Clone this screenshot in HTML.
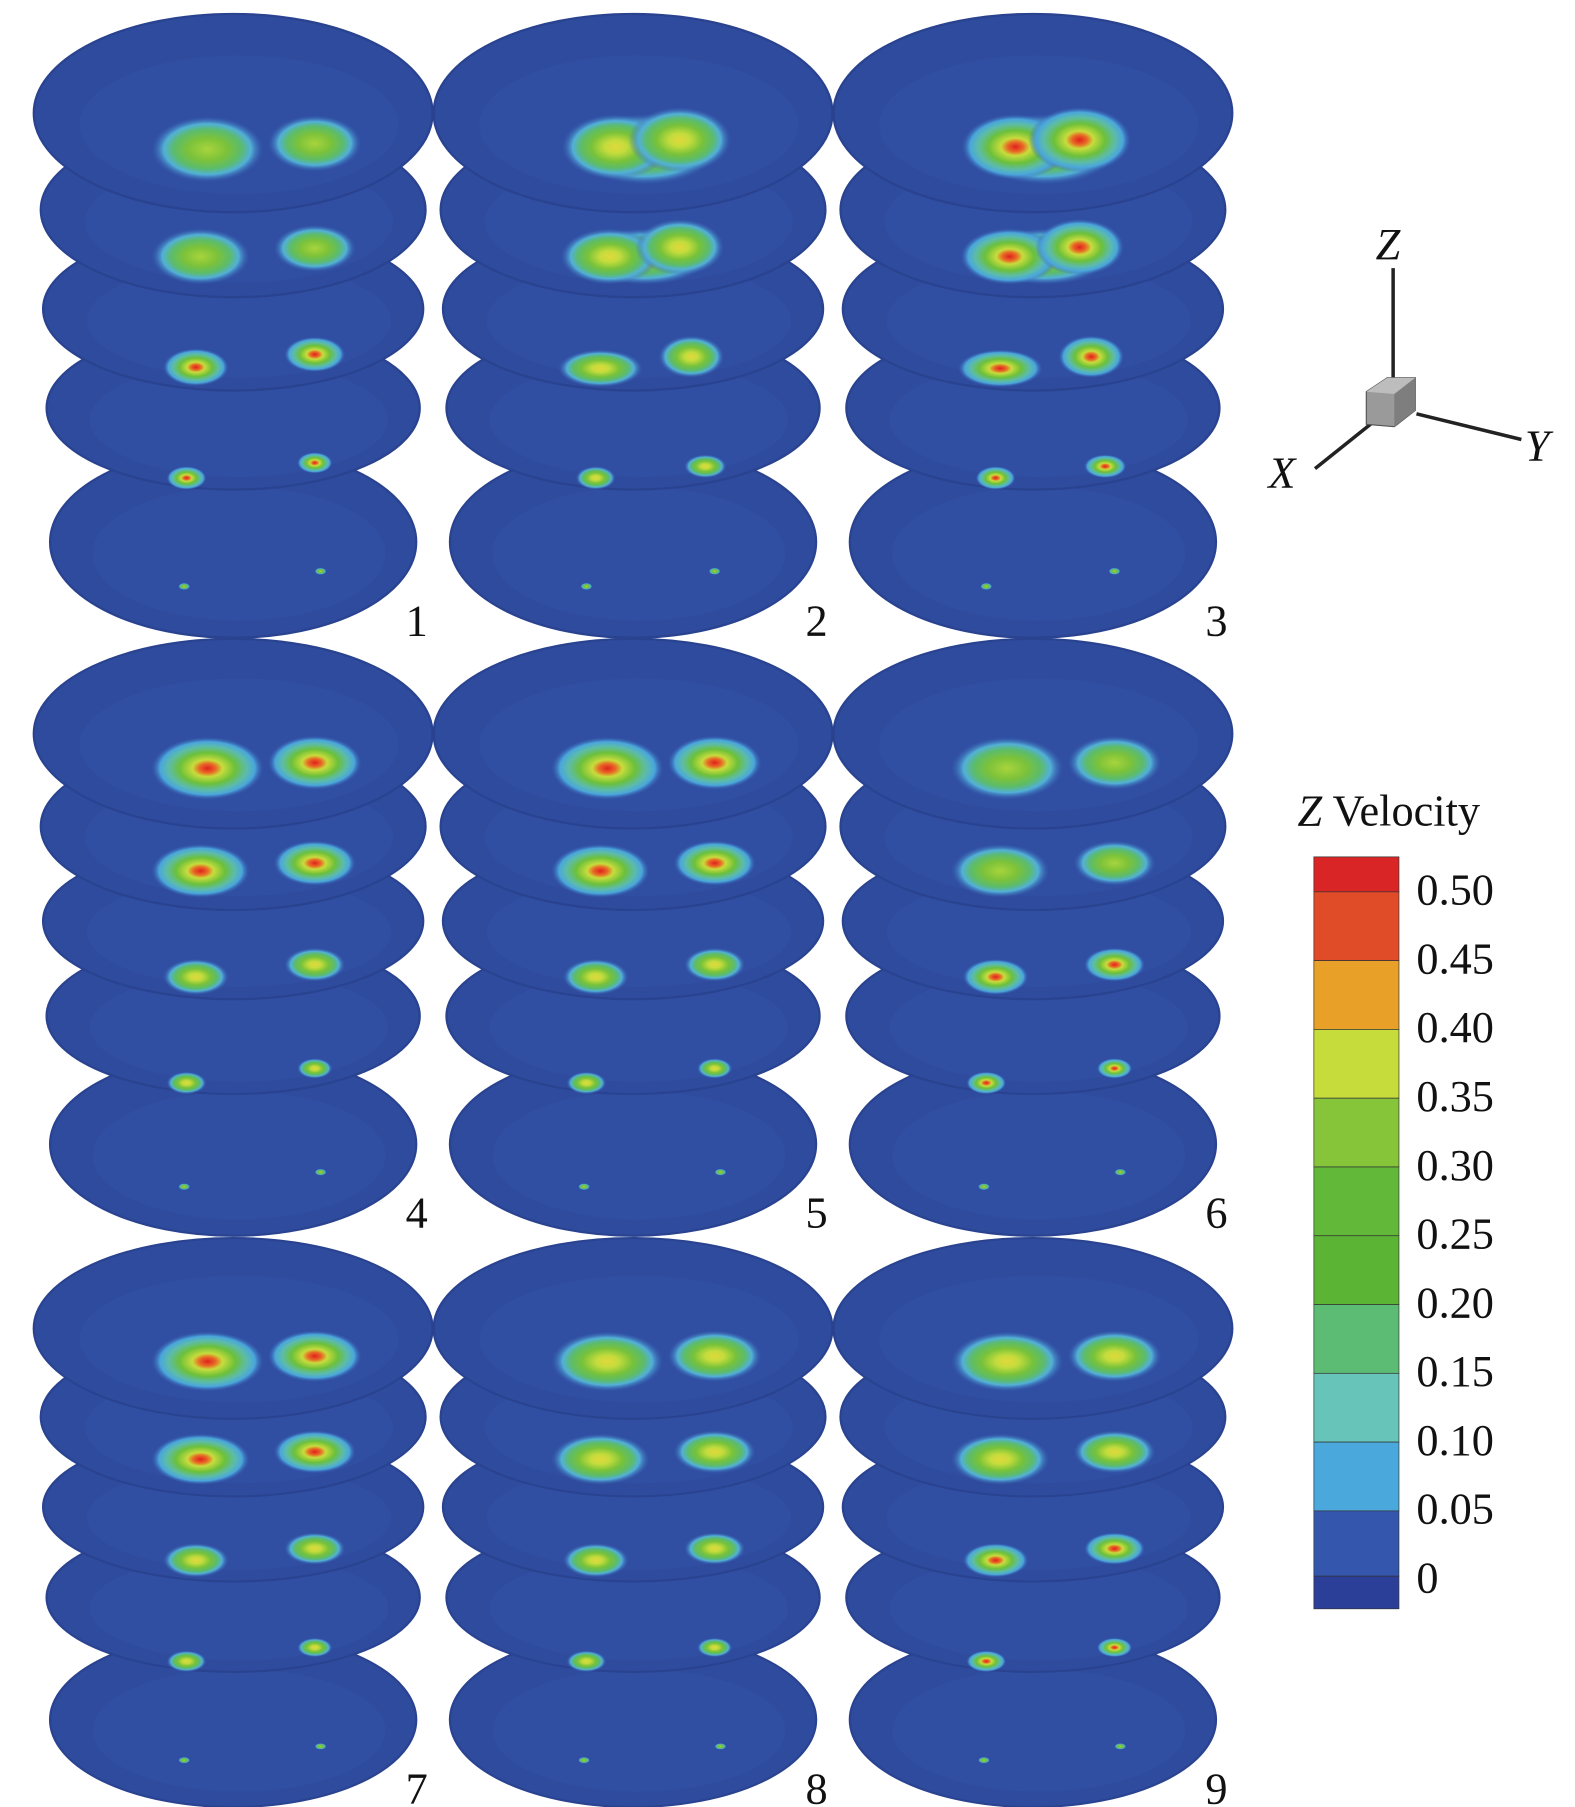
<!DOCTYPE html>
<html><head><meta charset="utf-8"><style>
html,body{margin:0;padding:0;background:#fff;}
svg{display:block;}
</style></head><body>
<svg id="s" width="1575" height="1807" viewBox="0 0 1351 1550" preserveAspectRatio="none" xmlns="http://www.w3.org/2000/svg">
<defs>
<radialGradient id="g0"><stop offset="0" stop-color="#a8d43c"/><stop offset="0.35" stop-color="#7cc23a"/><stop offset="0.6" stop-color="#5cbc6a"/><stop offset="0.78" stop-color="#52b0d8"/><stop offset="1" stop-color="#3a64b4" stop-opacity="0"/></radialGradient>
<radialGradient id="g1"><stop offset="0" stop-color="#e0d83c"/><stop offset="0.2" stop-color="#c4dc3c"/><stop offset="0.45" stop-color="#78c23a"/><stop offset="0.65" stop-color="#5cbc6a"/><stop offset="0.8" stop-color="#52b0d8"/><stop offset="1" stop-color="#3a64b4" stop-opacity="0"/></radialGradient>
<radialGradient id="g2"><stop offset="0" stop-color="#e02020"/><stop offset="0.15" stop-color="#e86a24"/><stop offset="0.27" stop-color="#c8dc3c"/><stop offset="0.5" stop-color="#6cc03a"/><stop offset="0.7" stop-color="#5cbcaa"/><stop offset="0.85" stop-color="#4aa6dc"/><stop offset="1" stop-color="#3a64b4" stop-opacity="0"/></radialGradient>
</defs>
<g id="panels"></g>
<!-- axis triad -->
<line x1="1195" y1="230" x2="1195" y2="330" stroke="#222" stroke-width="3"/>
<line x1="1178" y1="362" x2="1128" y2="402" stroke="#222" stroke-width="3"/>
<line x1="1215" y1="355" x2="1305" y2="377" stroke="#222" stroke-width="3"/>
<polygon points="1172,336 1190,324 1214,324 1214,352 1196,366 1172,364" fill="#9a9a9a" stroke="#555" stroke-width="1"/>
<polygon points="1172,336 1190,324 1214,324 1196,338" fill="#bdbdbd"/>
<polygon points="1196,338 1214,324 1214,352 1196,366" fill="#7e7e7e"/>
<g font-family="Liberation Serif, serif" font-style="italic" font-size="38" fill="#111">
<text x="1180" y="222">Z</text>
<text x="1088" y="418">X</text>
<text x="1308" y="395">Y</text>
</g>
<!-- colorbar -->
<text x="1113" y="708" font-family="Liberation Serif, serif" font-size="38" fill="#111"><tspan font-style="italic">Z</tspan> Velocity</text>
<g id="cb"></g>
</svg>
<script>
var NS="http://www.w3.org/2000/svg";
function el(p,t,a){var e=document.createElementNS(NS,t);for(var k in a)e.setAttribute(k,a[k]);p.appendChild(e);return e;}
var P=document.getElementById('panels');
var discs=[[97,171,85],[180,165,75],[265,163,70],[350,160,70],[465,157,82]];
function base(l,r){
 return [
  [[178,128,48,28,l],[270,123,40,24,l]],
  [[172,220,42,24,l],[270,213,35,20,l]],
  [[168,315,28,16,r],[270,304,26,15,r]],
  [[160,410,17,10,r],[270,397,15,9,r]],
  [[158,503,5,3,'g0'],[275,490,5,3,'g0']]
 ];
}
function merged(l,r){
 return [
  [[210,128,62,30,'g0'],[185,126,46,28,l],[240,120,44,28,l]],
  [[210,220,55,24,'g0'],[180,220,42,24,l],[240,212,38,24,l]],
  [[172,316,36,16,r],[250,306,28,18,r]],
  [[168,410,17,10,r],[262,400,18,10,r]],
  [[160,503,5,3,'g0'],[270,490,5,3,'g0']]
 ];
}
var cfg=[base('g0','g2'),merged('g1','g1'),merged('g2','g2'),
 base('g2','g1'),base('g2','g1'),base('g0','g2'),
 base('g2','g1'),base('g1','g1'),base('g1','g2')];
var rows=[[12,1],[548,512/535],[1062,488/535]];
var cols=[0,343,686];
for(var r=0;r<3;r++)for(var c=0;c<3;c++){
 var idx=r*3+c;
 var g=el(P,'g',{transform:'translate('+cols[c]+','+rows[r][0]+') scale(1,'+rows[r][1]+') translate(0,-12)'});
 var sp=cfg[idx];
 for(var d=4;d>=0;d--){
  var D=discs[d];
  el(g,'ellipse',{cx:200,cy:D[0],rx:D[1],ry:D[2],fill:'#2f4b9e',stroke:'#2a4390','stroke-width':2});
  el(g,'ellipse',{cx:205,cy:D[0]+10,rx:D[1]*0.8,ry:D[2]*0.7,fill:'#3252a6',opacity:0.6});
  sp[d].forEach(function(s){el(g,'ellipse',{cx:s[0],cy:s[1],rx:s[2],ry:s[3],fill:'url(#'+s[4]+')'});});
 }
 var lb=el(P,'text',{x:cols[c]+348,y:[545,1053,1547][r],'font-family':'Liberation Serif, serif','font-size':38,fill:'#111'});
 lb.textContent=String(idx+1);
}
var C=document.getElementById('cb');
var cols2=['#d92525','#e04c28','#e8a028','#c6dc3a','#86c43a','#62b838','#5cb434','#5cbc74','#66c4b8','#4aa8dc','#3456ac','#2c3f98'];
var ys=[735,765,824,883,942,1001,1060,1119,1178,1237,1296,1352,1380];
for(var i=0;i<12;i++){el(C,'rect',{x:1127,y:ys[i],width:73,height:ys[i+1]-ys[i],fill:cols2[i],stroke:'#333','stroke-width':0.6});}
var lbls=['0.50','0.45','0.40','0.35','0.30','0.25','0.20','0.15','0.10','0.05','0'];
for(var i=0;i<11;i++){var t=el(C,'text',{x:1215,y:776+59*i,'font-family':'Liberation Serif, serif','font-size':38,fill:'#111'});t.textContent=lbls[i];}
</script>
</body></html>
